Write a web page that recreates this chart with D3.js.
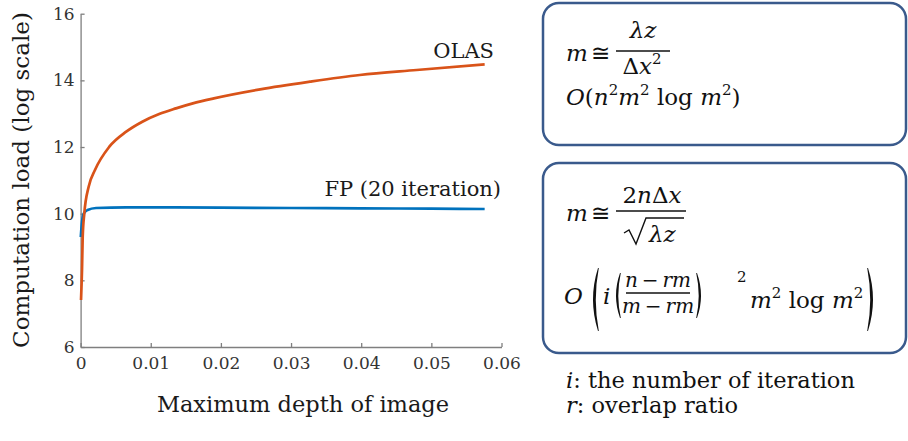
<!DOCTYPE html>
<html>
<head>
<meta charset="utf-8">
<script src="https://cdn.jsdelivr.net/npm/d3@7"></script>
<style>
  html, body { margin: 0; padding: 0; background: #fff; }
  svg { display: block; }
  text { font-family: "DejaVu Serif", "Liberation Serif", serif; }
</style>
</head>
<body>
<svg id="chart" width="908" height="441"></svg>
<script>
// Maximum depth of image (x) vs computation load, log scale (y)
const olasX = [0.00006, 0.0002, 0.0003, 0.00053, 0.00115, 0.00205, 0.0041, 0.0065, 0.0088,
               0.0112, 0.0136, 0.016, 0.019, 0.0256, 0.0327, 0.0398, 0.0479, 0.0576];
const olasY = [7.41, 8.31, 9.31, 10.01, 10.81, 11.31, 12.01, 12.46, 12.76,
               12.99, 13.16, 13.31, 13.46, 13.73, 13.96, 14.16, 14.31, 14.48];

const fpX = [0.00003, 0.0002, 0.0005, 0.001, 0.0022, 0.0065, 0.012, 0.02, 0.03, 0.04, 0.05, 0.0576];
const fpY = [9.30, 9.75, 10.02, 10.11, 10.17, 10.19, 10.19, 10.18, 10.17, 10.16, 10.15, 10.14];

const xTicks = [0, 0.01, 0.02, 0.03, 0.04, 0.05, 0.06];
const xTickLabels = ["0", "0.01", "0.02", "0.03", "0.04", "0.05", "0.06"];
const yTicks = [6, 8, 10, 12, 14, 16];
const yTickLabels = ["6", "8", "10", "12", "14", "16"];

const seriesNames = ["OLAS", "FP (20 iteration)"];
const xTitle = "Maximum depth of image";
const yTitle = "Computation load (log scale)";

const svg = d3.select("#chart");

const x = d3.scaleLinear().domain([0, 0.06]).range([80.6, 501.5]);
const y = d3.scaleLinear().domain([6, 16]).range([347, 13.7]);

const axisColor = "#7f7f7f";
const labelColor = "#333";

// axes, ticks pointing inward
const gx = svg.append("g").attr("transform", `translate(0,${y(6)})`)
  .call(d3.axisBottom(x).tickValues(xTicks)
    .tickFormat((d, i) => xTickLabels[i])
    .tickSizeInner(-4).tickSizeOuter(0).tickPadding(10));
const gy = svg.append("g").attr("transform", `translate(${x(0)},0)`)
  .call(d3.axisLeft(y).tickValues(yTicks)
    .tickFormat((d, i) => yTickLabels[i])
    .tickSizeInner(-4).tickSizeOuter(0).tickPadding(6));

[gx, gy].forEach(g => {
  g.select(".domain").attr("stroke", axisColor).attr("stroke-width", 1.3);
  g.selectAll(".tick line").attr("stroke", axisColor).attr("stroke-width", 1.3);
  g.selectAll(".tick text").attr("fill", labelColor)
    .style("font-family", '"DejaVu Serif", serif').style("font-size", "17px");
});

// curves
const line = d3.line().x(d => x(d[0])).y(d => y(d[1])).curve(d3.curveMonotoneX);
const fpData = fpX.map((v, i) => [v, fpY[i]]);
const olasData = olasX.map((v, i) => [v, olasY[i]]);

svg.append("path").datum(fpData).attr("d", line)
  .attr("fill", "none").attr("stroke", "#0072BD").attr("stroke-width", 2.7);
svg.append("path").datum(olasData).attr("d", line)
  .attr("fill", "none").attr("stroke", "#D95319").attr("stroke-width", 2.7);

// series labels
svg.append("text").attr("x", 494).attr("y", 58).attr("text-anchor", "end")
  .attr("fill", "#1a1a1a").style("font-size", "21px").text(seriesNames[0]);
svg.append("text").attr("x", 501).attr("y", 196).attr("text-anchor", "end")
  .attr("fill", "#1a1a1a").style("font-size", "21px").text(seriesNames[1]);

// axis titles
svg.append("text").attr("x", 303).attr("y", 412).attr("text-anchor", "middle")
  .attr("fill", "#1a1a1a").style("font-size", "22.5px").text(xTitle);
svg.append("text").attr("transform", "translate(29,180) rotate(-90)")
  .attr("text-anchor", "middle").attr("fill", "#1a1a1a")
  .style("font-size", "23px").text(yTitle);

// ---- formula panels ----
const boxColor = "#3a5a8c";
svg.append("rect").attr("x", 543).attr("y", 3).attr("width", 363).attr("height", 142)
  .attr("rx", 16).attr("fill", "none").attr("stroke", boxColor).attr("stroke-width", 2.5);
svg.append("rect").attr("x", 543).attr("y", 163).attr("width", 363).attr("height", 190)
  .attr("rx", 16).attr("fill", "none").attr("stroke", boxColor).attr("stroke-width", 2.5);

const ink = "#111";
const fs = 23, sup = 15;
const thin = "\u2009";

// write a run of math pieces into one text element
function mathText(px, py, runs, anchor, size) {
  const t = svg.append("text").attr("x", px).attr("y", py)
    .attr("fill", ink).style("font-size", (size || fs) + "px");
  if (anchor) t.attr("text-anchor", anchor);
  let raised = false;
  runs.forEach(r => {
    const s = t.append("tspan").text(r.t);
    if (r.it) s.style("font-style", "italic");
    if (r.sup) {
      s.style("font-size", sup + "px");
      if (!raised) { s.attr("dy", -10); raised = true; }
    } else if (raised) {
      s.attr("dy", 10); raised = false;
    }
  });
  return t;
}
function hbar(x1, x2, yy) {
  svg.append("line").attr("x1", x1).attr("x2", x2).attr("y1", yy).attr("y2", yy)
    .attr("stroke", ink).attr("stroke-width", 1.3);
}
// stretchy parenthesis: tapered crescent, thick in the middle
function paren(xEdge, yTop, yBot, bulge, w) {
  const ym = (yTop + yBot) / 2;
  const dir = Math.sign(bulge);
  const p = d3.path();
  p.moveTo(xEdge, yTop);
  p.quadraticCurveTo(xEdge - bulge * 2, ym, xEdge, yBot);
  p.lineTo(xEdge + 0.8 * dir, yBot);
  p.quadraticCurveTo(xEdge - bulge * 2 + w * dir, ym, xEdge + 0.8 * dir, yTop);
  p.closePath();
  svg.append("path").attr("d", p.toString()).attr("fill", ink);
}

// m ≅ λz / Δx²
mathText(566, 61, [{ t: "m", it: true }]);
mathText(591, 61, [{ t: "≅" }]);
mathText(643, 38, [{ t: "λz", it: true }], "middle");
hbar(616, 670, 51);
mathText(642, 74, [{ t: "Δ" }, { t: "x", it: true }, { t: "2", sup: true }], "middle");
// O(n² m² log m²)
mathText(566, 105, [{ t: "O", it: true }, { t: "(" }, { t: "n", it: true }, { t: "2", sup: true },
  { t: "m", it: true }, { t: "2", sup: true }, { t: " log " }, { t: "m", it: true },
  { t: "2", sup: true }, { t: ")" }]);

// m ≅ 2nΔx / √(λz)
mathText(566, 221, [{ t: "m", it: true }]);
mathText(591, 221, [{ t: "≅" }]);
mathText(652, 203, [{ t: "2" }, { t: "n", it: true }, { t: "Δ" }, { t: "x", it: true }], "middle");
hbar(616, 686, 211);
svg.append("path")
  .attr("d", "M624,233 L629,230 L636,244 L646,218 L684,218")
  .attr("fill", "none").attr("stroke", ink).attr("stroke-width", 1.4);
mathText(649, 242, [{ t: "λz", it: true }]);

// O( i ((n − rm)/(m − rm))² m² log m² )
mathText(564, 304, [{ t: "O", it: true }]);
paren(598, 268, 331, 5, 4.8);
mathText(603, 304, [{ t: "i", it: true }]);
paren(620, 273, 318, 4, 3.8);
mathText(658, 287, [{ t: "n", it: true }, { t: thin + "−" + thin }, { t: "rm", it: true }], "middle", 20);
hbar(626, 690, 293);
mathText(658, 313, [{ t: "m", it: true }, { t: thin + "−" + thin }, { t: "rm", it: true }], "middle", 20);
paren(697, 273, 318, -4, 3.8);
mathText(737, 282, [{ t: "2" }], null, sup);
mathText(750, 308, [{ t: "m", it: true }, { t: "2", sup: true }, { t: " log " },
  { t: "m", it: true }, { t: "2", sup: true }]);
paren(868, 268, 331, -5, 4.8);

// legend notes
mathText(566, 388, [{ t: "i", it: true }, { t: ": the number of iteration" }], null, 22.5);
mathText(566, 413, [{ t: "r", it: true }, { t: ": overlap ratio" }], null, 22.5);
</script>
</body>
</html>
